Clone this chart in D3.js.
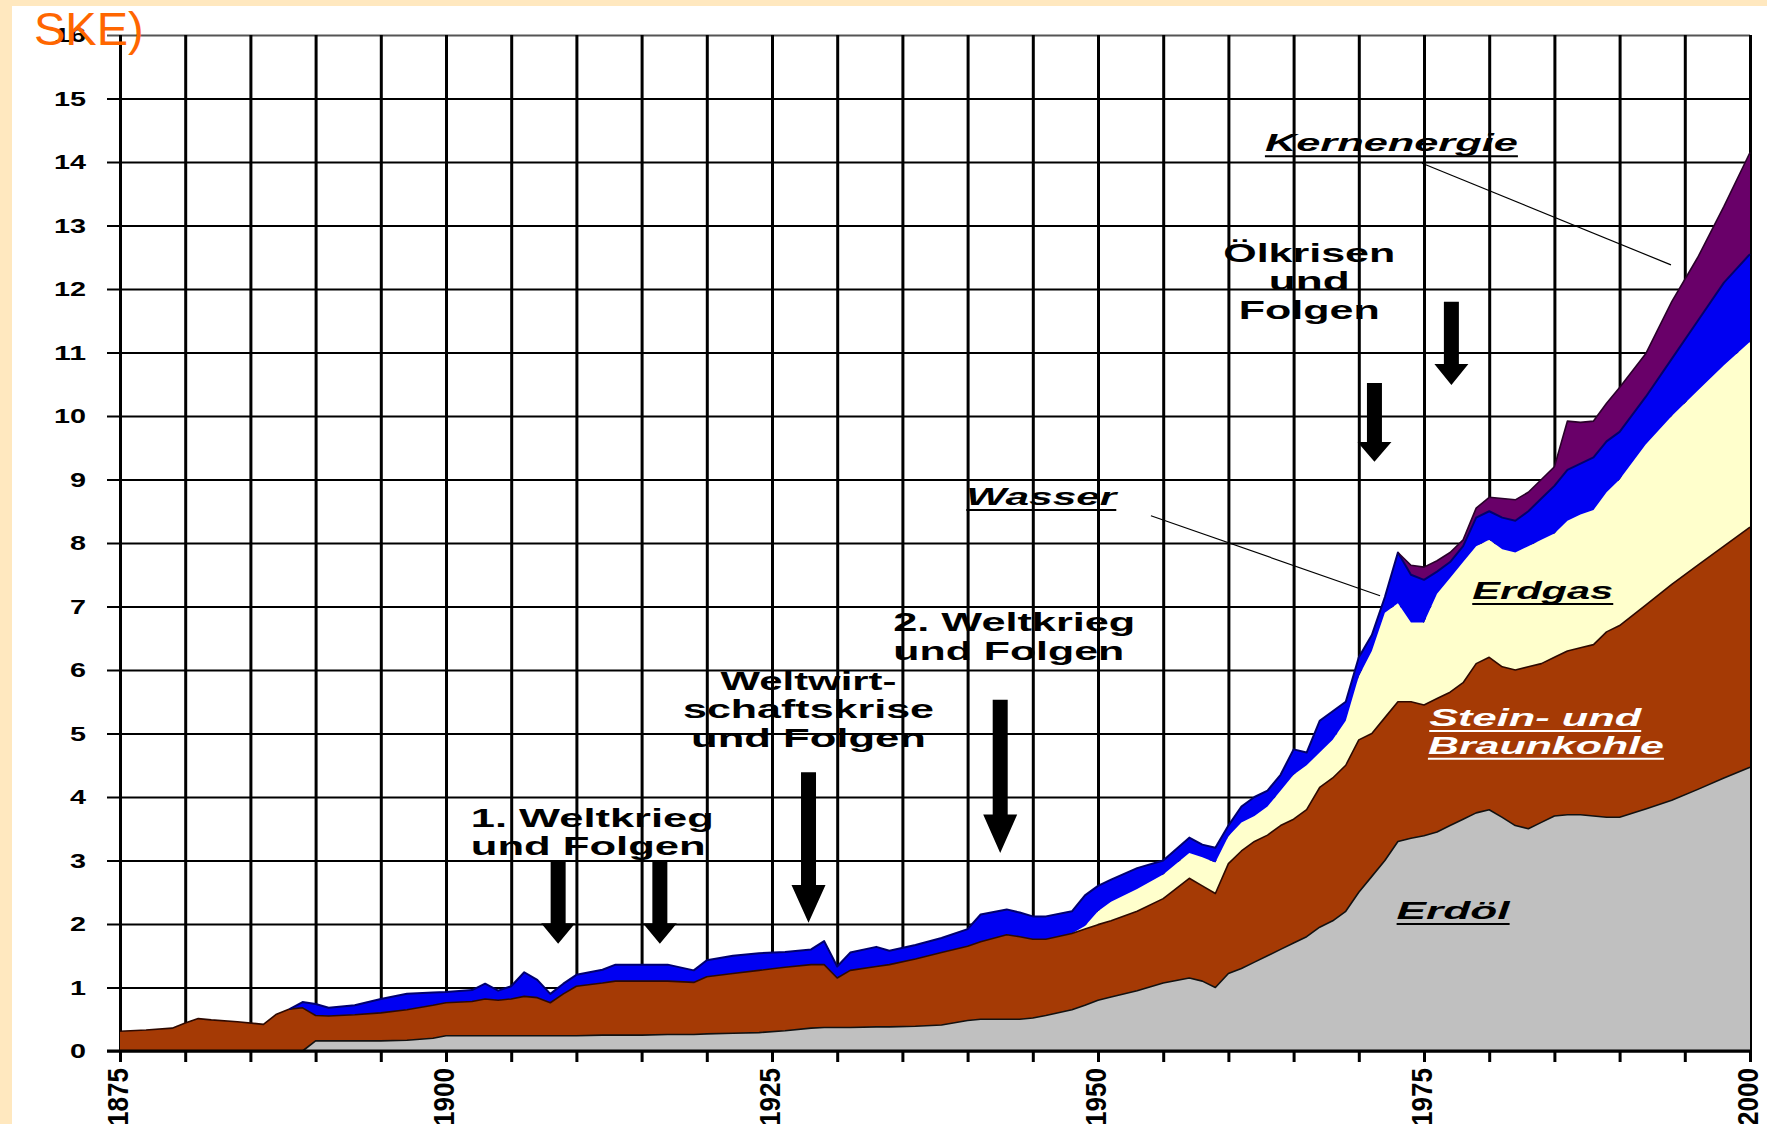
<!DOCTYPE html>
<html>
<head>
<meta charset="utf-8">
<script src="https://cdn.jsdelivr.net/npm/d3@7"></script>
<style>
  html, body { margin: 0; padding: 0; background: #fff; }
  svg { display: block; }
  text { font-family: "Liberation Sans", Arial, Helvetica, sans-serif; }
</style>
</head>
<body>
<svg id="chart" width="1767" height="1124"></svg>
<script>
// Primärenergieverbrauch der Welt 1875-2000 (Mrd. t SKE), gestapelt nach Energieträgern
const years = [
  1875,1877,1879,1880,1881,1882,1884,1886,1887,1888,
  1889,1890,1891,1893,1895,1897,1899,1900,1902,1903,
  1904,1905,1906,1907,1908,1909,1910,1912,1913,1915,
  1917,1919,1920,1922,1924,1926,1928,1929,1930,1931,
  1933,1934,1936,1938,1940,1941,1943,1944,1945,1946,
  1948,1949,1950,1951,1953,1955,1957,1958,1959,1960,
  1961,1962,1963,1964,1965,1966,1967,1968,1969,1970,
  1971,1972,1973,1974,1975,1976,1977,1978,1979,1980,
  1981,1982,1983,1984,1985,1986,1987,1988,1989,1990,
  1992,1994,1996,1998,2000
];
const erdoel = [
  0,0,0,0,0,0,0,0,0,0,
  0,.16,.16,.16,.16,.17,.20,.24,.24,.24,
  .24,.24,.24,.24,.24,.24,.24,.25,.25,.25,
  .26,.26,.27,.28,.29,.32,.36,.37,.37,.37,
  .38,.38,.39,.41,.48,.50,.50,.50,.52,.56,
  .65,.72,.80,.85,.95,1.07,1.15,1.10,1.00,1.22,
  1.30,1.40,1.50,1.60,1.70,1.80,1.95,2.05,2.20,2.50,
  2.75,3.00,3.30,3.35,3.39,3.45,3.55,3.65,3.75,3.80,
  3.68,3.55,3.50,3.60,3.70,3.72,3.72,3.70,3.68,3.68,
  3.81,3.95,4.12,4.30,4.47
];
const kohle = [
  .31,.33,.36,.44,.51,.49,.46,.42,.58,.66,
  .68,.40,.39,.41,.44,.48,.52,.52,.54,.58,
  .56,.58,.62,.60,.52,.66,.78,.82,.85,.85,
  .84,.82,.90,.94,.98,1.00,1.00,.99,.78,.90,
  .95,.98,1.06,1.14,1.17,1.22,1.33,1.30,1.24,1.20,
  1.20,1.20,1.19,1.20,1.25,1.33,1.57,1.50,1.48,1.73,
  1.85,1.90,1.90,1.95,1.95,2.00,2.20,2.25,2.30,2.40,
  2.25,2.25,2.20,2.15,2.06,2.10,2.10,2.15,2.35,2.40,
  2.37,2.45,2.55,2.50,2.50,2.58,2.63,2.70,2.92,3.02,
  3.21,3.40,3.53,3.65,3.78
];
const erdgas = [
  0,0,0,0,0,0,0,0,0,0,
  0,0,0,0,0,0,0,0,0,0,
  0,0,0,0,0,0,0,0,0,0,
  0,0,0,0,0,0,0,0,0,0,
  0,0,0,0,0,0,0,0,0,0,
  0,.05,.21,.30,.35,.38,.40,.45,.49,.43,
  .45,.40,.45,.55,.70,.70,.55,.60,.70,1.00,
  1.30,1.65,1.55,1.25,1.30,1.65,1.80,1.90,1.85,1.85,
  1.85,1.85,1.90,1.95,1.95,2.05,2.10,2.12,2.20,2.30,
  2.53,2.65,2.75,2.85,2.92
];
const wasser = [
  0,0,0,0,0,0,0,0,0,0,
  .09,.18,.13,.15,.22,.25,.20,.17,.18,.24,
  .15,.20,.38,.28,.14,.16,.18,.21,.26,.26,
  .26,.19,.26,.28,.27,.24,.24,.37,.18,.28,
  .31,.22,.22,.23,.27,.43,.40,.38,.36,.36,
  .35,.48,.40,.35,.33,.22,.24,.20,.23,.17,
  .25,.30,.25,.25,.40,.20,.50,.45,.30,.30,
  .25,.25,.80,.75,.67,.35,.25,.25,.45,.45,
  .50,.50,.55,.65,.75,.80,.80,.83,.80,.75,
  .75,.90,1.10,1.30,1.38
];
const kernenergie = [
  0,0,0,0,0,0,0,0,0,0,
  0,0,0,0,0,0,0,0,0,0,
  0,0,0,0,0,0,0,0,0,0,
  0,0,0,0,0,0,0,0,0,0,
  0,0,0,0,0,0,0,0,0,0,
  0,0,0,0,0,0,0,0,0,0,
  0,0,0,0,0,0,0,0,0,0,
  0,0,0,.15,.20,.17,.15,.10,.15,.22,
  .30,.33,.30,.30,.30,.77,.65,.57,.60,.70,
  .68,.90,1.00,1.20,1.60
];

const yTicks = d3.range(0, 17);
const gridYears = d3.range(1875, 2001, 5);
const labelYears = [1875, 1900, 1925, 1950, 1975, 2000];
const titleText = "SKE)";

// Historical events: label lines and arrow extents in data units
const eventLabels = [
  { lines: ["1. Weltkrieg", "und Folgen"], year: 1901.9, value: 3.53, anchor: "start", widths: [243, 235] },
  { lines: ["Weltwirt-", "schaftskrise", "und Folgen"], year: 1927.8, value: 5.69, anchor: "middle", widths: [176, 251, 235] },
  { lines: ["2. Weltkrieg", "und Folgen"], year: 1934.3, value: 6.61, anchor: "start", widths: [242, 231] },
  { lines: ["Ölkrisen", "und", "Folgen"], year: 1966.2, value: 12.43, anchor: "middle", widths: [172, 81, 141] }
];
const eventArrows = [
  { year: 1908.6, from: 2.98, to: 1.69 },
  { year: 1916.4, from: 2.98, to: 1.69 },
  { year: 1927.8, from: 4.39, to: 2.02 },
  { year: 1942.5, from: 5.53, to: 3.12 },
  { year: 1971.2, from: 10.52, to: 9.28 },
  { year: 1977.1, from: 11.80, to: 10.49 }
];
// Source names placed on or beside their areas
const sourceLabels = [
  { text: "Kernenergie", year: 1962.8, value: 14.17, width: 253, color: "#000" },
  { text: "Wasser", year: 1939.9, value: 8.60, width: 150, color: "#000" },
  { text: "Erdgas", year: 1978.7, value: 7.12, width: 141, color: "#000" },
  { text: "Stein- und", year: 1975.4, value: 5.12, width: 212, color: "#fff" },
  { text: "Braunkohle", year: 1975.3, value: 4.68, width: 236, color: "#fff" },
  { text: "Erdöl", year: 1972.9, value: 2.08, width: 113, color: "#000" }
];
const leaders = [
  { x1: 1974.85, y1: 13.98, x2: 1993.94, y2: 12.38 },
  { x1: 1954.06, y1: 8.43, x2: 1971.63, y2: 7.17 }
];

const W = 1767, H = 1124;
const svg = d3.select("#chart");
const x = d3.scaleLinear().domain([1875, 2000]).range([120, 1750]);
const y = d3.scaleLinear().domain([0, 16]).range([1051, 35]);

// page background with the cream frame on the left and top
svg.append("rect").attr("width", W).attr("height", H).attr("fill", "#fff");
svg.append("rect").attr("width", W).attr("height", 6).attr("fill", "#FFE8BF");
svg.append("rect").attr("width", 12).attr("height", H).attr("fill", "#FFE8BF");

// horizontal grid + y labels
const gy = svg.append("g").attr("transform", `translate(${x(1875)},0)`)
  .call(d3.axisLeft(y).tickValues(yTicks).tickSize(-(x(2000) - x(1875))).tickPadding(34).tickFormat(d3.format("d")));
gy.select(".domain").remove();
gy.selectAll(".tick line")
  .attr("x1", -13)
  .attr("stroke", d => d === 16 ? "#555" : "#000")
  .attr("stroke-width", 2);
gy.selectAll(".tick text")
  .attr("fill", "#000")
  .style("font-size", "21px")
  .style("font-weight", "bold")
  .attr("textLength", d => String(d).length * 16)
  .attr("lengthAdjust", "spacingAndGlyphs");

// vertical grid, extending below the axis as tick marks
const gx = svg.append("g").attr("transform", `translate(0,${y(0)})`)
  .call(d3.axisBottom(x).tickValues(gridYears).tickSize(11).tickFormat(""));
gx.select(".domain").remove();
gx.selectAll(".tick line")
  .attr("y1", -(y(0) - y(16)))
  .attr("y2", 11)
  .attr("stroke", "#000")
  .attr("stroke-width", 3);

// stacked areas
const keys = ["erdoel", "kohle", "erdgas", "wasser", "kernenergie"];
const cols = { erdoel, kohle, erdgas, wasser, kernenergie };
const table = years.map((yr, i) => {
  const row = { year: yr };
  keys.forEach(k => row[k] = cols[k][i]);
  return row;
});
const series = d3.stack().keys(keys)(table);
const fills = { erdoel: "#C0C0C0", kohle: "#A53A05", erdgas: "#FFFFCC", wasser: "#0000F2", kernenergie: "#690069" };
const edges = { erdoel: "#111", kohle: "#2e0900", erdgas: null, wasser: "#00006e", kernenergie: "#2a002a" };

const area = d3.area().x(d => x(d.data.year)).y0(d => y(d[0])).y1(d => y(d[1]));
const topLine = d3.line().x(d => x(d.data.year)).y(d => y(d[1]));
const visible = s => {
  const first = s.findIndex(d => d[1] - d[0] > 0);
  return s.slice(Math.max(0, first - 1));
};
const areas = svg.append("g");
series.forEach(s => {
  areas.append("path").attr("d", area(visible(s))).attr("fill", fills[s.key]);
});
series.forEach(s => {
  if (!edges[s.key]) return;
  areas.append("path").attr("d", topLine(visible(s)))
    .attr("fill", "none").attr("stroke", edges[s.key])
    .attr("stroke-width", s.key === "wasser" ? 2 : 1.6)
    .attr("stroke-linejoin", "round");
});

// baseline
svg.append("line")
  .attr("x1", x(1875) - 13).attr("x2", x(2000))
  .attr("y1", y(0)).attr("y2", y(0))
  .attr("stroke", "#000").attr("stroke-width", 3);

// rotated year labels
svg.append("g").selectAll("text").data(labelYears).join("text")
  .attr("transform", d => `translate(${x(d) + 8},1068) rotate(-90)`)
  .attr("text-anchor", "end")
  .attr("fill", "#000")
  .style("font-size", "30px")
  .style("font-weight", "bold")
  .attr("textLength", 58)
  .attr("lengthAdjust", "spacingAndGlyphs")
  .text(d => d);

// leader lines
svg.append("g").selectAll("line").data(leaders).join("line")
  .attr("x1", d => x(d.x1)).attr("y1", d => y(d.y1))
  .attr("x2", d => x(d.x2)).attr("y2", d => y(d.y2))
  .attr("stroke", "#000").attr("stroke-width", 1.2);

// event arrows
const arrowPath = a => {
  const cx = x(a.year), t = y(a.from), b = y(a.to);
  const head = (b - t) * 0.25, sw = 7.5, hw = 17;
  return `M${cx - sw},${t}L${cx + sw},${t}L${cx + sw},${b - head}L${cx + hw},${b - head}` +
         `L${cx},${b}L${cx - hw},${b - head}L${cx - sw},${b - head}Z`;
};
svg.append("g").selectAll("path").data(eventArrows).join("path")
  .attr("d", arrowPath).attr("fill", "#000");

// event labels
const ev = svg.append("g");
eventLabels.forEach(lb => {
  lb.lines.forEach((ln, i) => {
    ev.append("text")
      .attr("x", x(lb.year))
      .attr("y", y(lb.value) + i * 28.5)
      .attr("text-anchor", lb.anchor)
      .attr("fill", "#000")
      .style("font-size", "26px")
      .style("font-weight", "bold")
      .attr("textLength", lb.widths[i])
      .attr("lengthAdjust", "spacingAndGlyphs")
      .text(ln);
  });
});

// source labels, underlined
const sl = svg.append("g");
sourceLabels.forEach(lb => {
  sl.append("text")
    .attr("x", x(lb.year)).attr("y", y(lb.value))
    .attr("fill", lb.color)
    .style("font-size", "24px")
    .style("font-weight", "bold")
    .style("font-style", "italic")
    .attr("textLength", lb.width)
    .attr("lengthAdjust", "spacingAndGlyphs")
    .text(lb.text);
  sl.append("line")
    .attr("x1", x(lb.year)).attr("x2", x(lb.year) + lb.width)
    .attr("y1", y(lb.value) + 5).attr("y2", y(lb.value) + 5)
    .attr("stroke", lb.color).attr("stroke-width", 2);
});

// unit title, partly cut off at the top
svg.append("text")
  .attr("x", 34).attr("y", 45)
  .attr("fill", "#FF6600")
  .style("font-size", "47px")
  .text(titleText);
</script>
</body>
</html>
